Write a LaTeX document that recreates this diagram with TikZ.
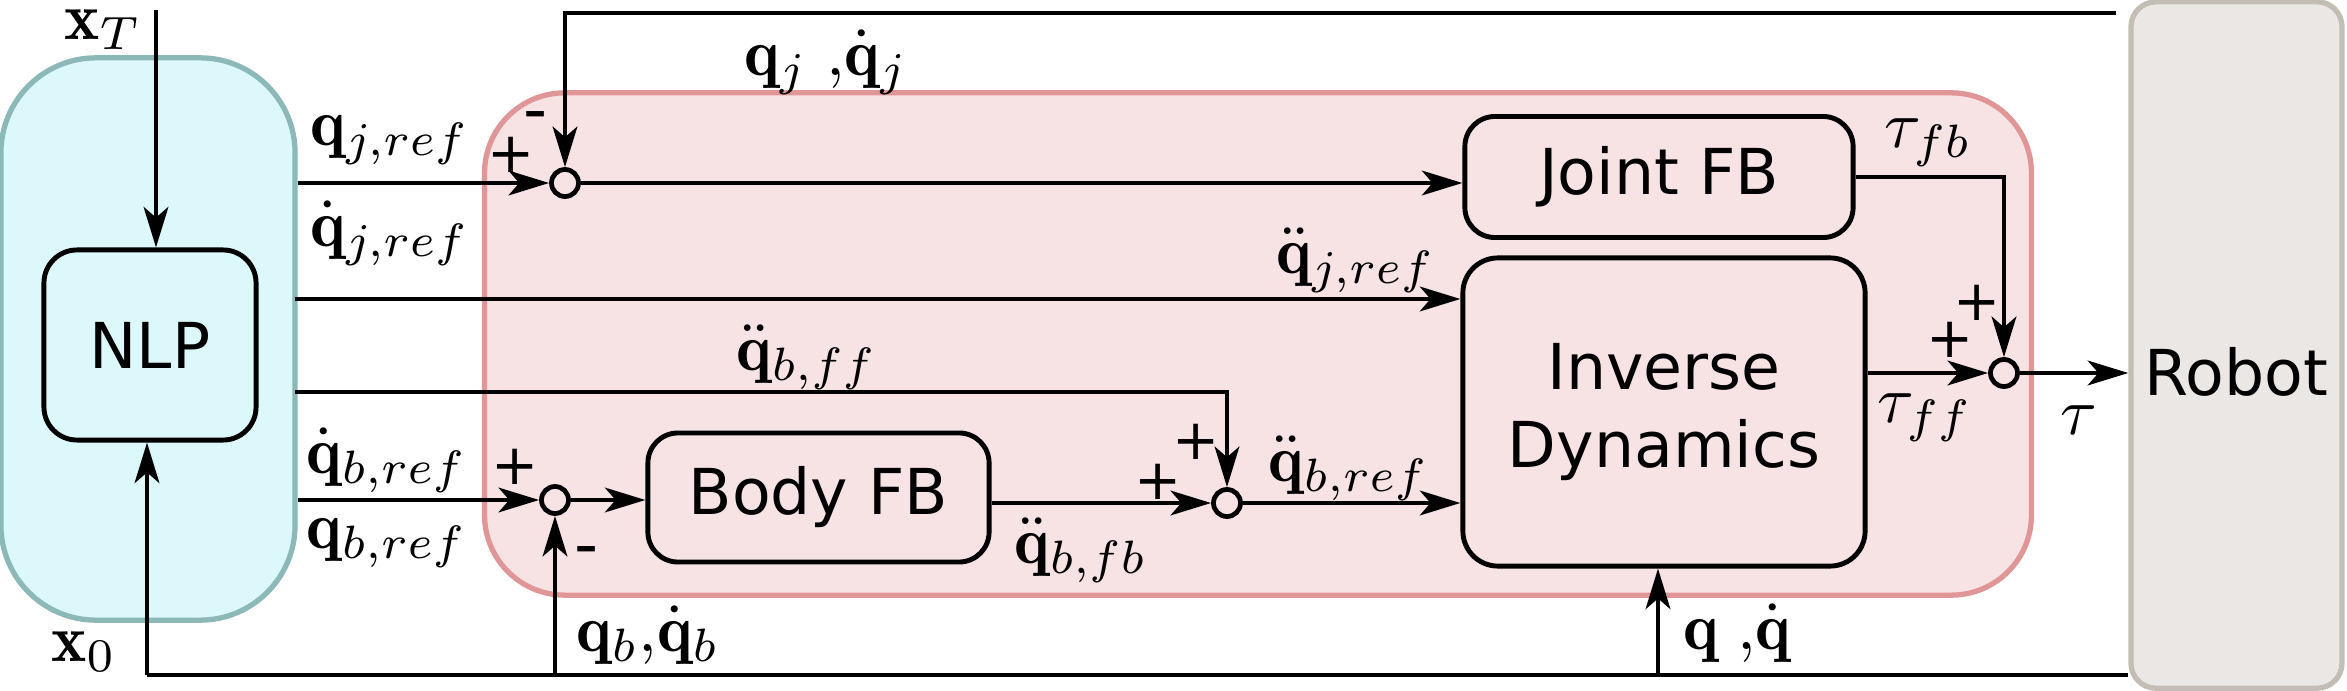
\documentclass[tikz,border=0pt]{standalone}
\usepackage{fontspec}
\newfontfamily\dejavu{DejaVu Sans}
\usetikzlibrary{arrows.meta}
\definecolor{cyanfill}{RGB}{220,248,250}
\definecolor{cyanline}{RGB}{140,184,184}
\definecolor{pinkfill}{RGB}{247,226,228}
\definecolor{pinkline}{RGB}{224,150,150}
\definecolor{robfill}{RGB}{235,231,228}
\definecolor{robline}{RGB}{196,189,182}
\newcommand{\mylbl}[1]{\scalebox{1.9}{#1}}
\tikzset{
  wire/.style={line width=1.35pt},
  arr/.style={wire,-{Stealth[length=11.5pt,width=7pt,inset=3pt]}},
  region/.style={rectangle,line width=1.5pt,inner sep=0pt},
  blk/.style={rectangle,draw,line width=1.4pt,inner sep=0pt,font=\dejavu\fontsize{18}{23}\selectfont,align=center},
  sumj/.style={circle,draw,line width=1.35pt,fill=pinkfill,inner sep=0pt,minimum size=0.27cm},
  lbl/.style={inner sep=0pt},
  sgn/.style={inner sep=0pt,font=\dejavu\fontsize{16}{18}\selectfont},
  sgnm/.style={inner sep=0pt,font=\dejavu\fontsize{19}{21}\selectfont},
}
\begin{document}
\begin{tikzpicture}[x=0.01cm,y=-0.01cm]
\useasboundingbox (0,0) rectangle (2347,691);
% regions
\node[region,draw=cyanline,fill=cyanfill,rounded corners=0.95cm,minimum width=2.94cm,minimum height=5.62cm] (cyan) at (148,339) {};
\node[region,draw=pinkline,fill=pinkfill,rounded corners=0.8cm,minimum width=15.46cm,minimum height=5.02cm] (pink) at (1258,344) {};
\node[region,draw=robline,fill=robfill,rounded corners=0.25cm,minimum width=2.11cm,minimum height=6.86cm] (robot) at (2236.5,345) {};
\node[font=\dejavu\fontsize{18}{23}\selectfont,inner sep=0pt] (robtxt) at (2236,372) {Robot};
% blocks
\node[blk,rounded corners=0.33cm,minimum width=2.12cm,minimum height=1.9cm] (nlp) at (150,345) {NLP};
\node[blk,rounded corners=0.3cm,minimum width=3.88cm,minimum height=1.21cm] (jfb) at (1659,177) {Joint FB};
\node[blk,rounded corners=0.35cm,minimum width=4.02cm,minimum height=3.08cm] (id) at (1664,412) {Inverse\\[-1pt]Dynamics};
\node[blk,rounded corners=0.3cm,minimum width=3.41cm,minimum height=1.29cm] (bfb) at (818.5,497.5) {Body FB};
% junctions
\node[sumj] (j1) at (565,183) {};
\node[sumj] (j2) at (555,500) {};
\node[sumj] (j3) at (1227,503) {};
\node[sumj] (j4) at (2004,373) {};
% coordinates
\coordinate (xt) at (156,10);
\coordinate (b0) at (147,675);
\coordinate (tR) at (2116,13);
\coordinate (qdd) at (295,299);
\coordinate (bff) at (295,392);
\coordinate (bq) at (1658,675);
% connectors
\draw[arr] (xt) -- (xt |- nlp.north);
\draw[arr] (b0) -- (b0 |- nlp.south);
\draw[wire] (b0) -- (b0 -| robot.west);
\draw[arr] (b0 -| j2) -- (j2);
\draw[arr] (bq) -- (bq |- id.south);
\draw[arr] (tR) -- (tR -| j1) -- (j1);
\draw[arr] (j1 -| cyan.east) -- (j1);
\draw[arr] (j1) -- (j1 -| jfb.west);
\draw[arr] (qdd) -- (qdd -| id.west);
\draw[arr] (bff) -| (j3.north);
\draw[arr] (j2 -| cyan.east) -- (j2);
\draw[arr] (j2) -- (j2 -| bfb.west);
\draw[arr] (j3 -| bfb.east) -- (j3);
\draw[arr] (j3) -- (j3 -| id.west);
\draw[arr] (j4 -| id.east) -- (j4);
\draw[arr] (jfb.east) -| (j4.north);
\draw[arr] (j4) -- (j4 -| robot.west);
% labels
\node[lbl] (lxT) at (103,30) {\mylbl{$\mathbf{x}_T$}};
\node[lbl] (lx0) at (84,652) {\mylbl{$\mathbf{x}_0$}};
\node[lbl] (lqjr) at (390,140) {\mylbl{$\mathbf{q}_{j,ref}$}};
\node[lbl] (lqdjr) at (390,233) {\mylbl{$\dot{\mathbf{q}}_{j,ref}$}};
\node[lbl] (lqj) at (826,62) {\mylbl{$\mathbf{q}_j\;{,}\dot{\mathbf{q}}_j$}};
\node[lbl] (lqddjr) at (1356,260) {\mylbl{$\ddot{\mathbf{q}}_{j,ref}$}};
\node[lbl] (lqddbff) at (807,357) {\mylbl{$\ddot{\mathbf{q}}_{b,ff}$}};
\node[lbl] (lqdbr) at (387,460) {\mylbl{$\dot{\mathbf{q}}_{b,ref}$}};
\node[lbl] (lqbr) at (387,543) {\mylbl{$\mathbf{q}_{b,ref}$}};
\node[lbl] (lqb) at (648,635) {\mylbl{$\mathbf{q}_b{\mathbf{,}}\dot{\mathbf{q}}_b$}};
\node[lbl] (lqddbfb) at (1081,550) {\mylbl{$\ddot{\mathbf{q}}_{b,fb}$}};
\node[lbl] (lqddbr) at (1349,468) {\mylbl{$\ddot{\mathbf{q}}_{b,ref}$}};
\node[lbl] (ltfb) at (1928,143) {\mylbl{$\tau_{fb}$}};
\node[lbl] (ltff) at (1925,418) {\mylbl{$\tau_{ff}$}};
\node[lbl] (lt) at (2079,420) {\mylbl{$\tau$}};
\node[lbl] (lq) at (1737,633) {\mylbl{$\mathbf{q}\;{,}\dot{\mathbf{q}}$}};
% signs
\node[sgn] (s1p) at (511,155) {+};
\node[sgnm] (s1m) at (536,122) {-};
\node[sgn] (s2p) at (515,467) {+};
\node[sgnm] (s2m) at (587,557) {-};
\node[sgn] (s3a) at (1158,482) {+};
\node[sgn] (s3b) at (1196,442) {+};
\node[sgn] (s4a) at (1977,303) {+};
\node[sgn] (s4b) at (1950,340) {+};
\end{tikzpicture}
\end{document}
